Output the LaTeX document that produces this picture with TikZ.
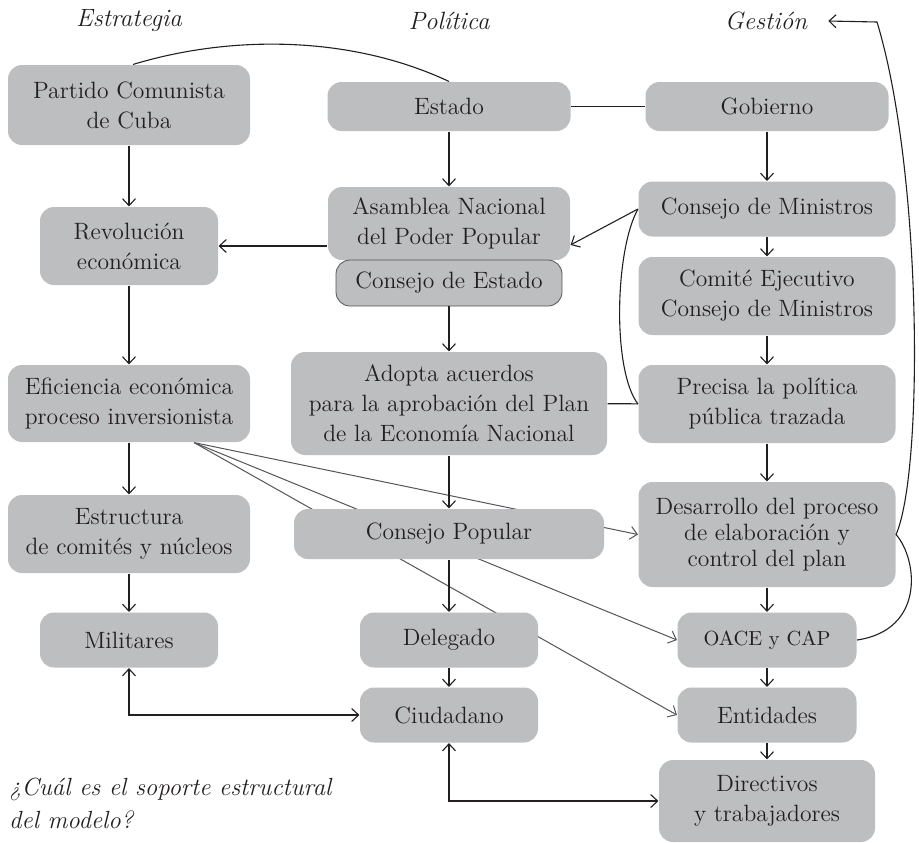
\documentclass[tikz,border=0pt]{standalone}
\usepackage{fontspec}
\usepackage{tikz}
\usetikzlibrary{arrows.meta, backgrounds}

\definecolor{cajagris}{RGB}{189,190,192}
\definecolor{tinta}{RGB}{35,31,32}
\definecolor{lineagris}{RGB}{85,85,88}

\tikzset{
  caja/.style={fill=cajagris, rounded corners=7pt, align=center, inner sep=2pt,
               text=tinta, font=\fontsize{11.8}{15}\selectfont},
  titulo/.style={font=\fontsize{12.5}{15}\selectfont\itshape, text=tinta},
  diagonal/.style={->, line width=0.5pt, draw=lineagris}
}

\begin{document}
\begin{tikzpicture}[->, >={Straight Barb[length=3.5pt,width=6.5pt]},
                x=0.5pt, y=-0.5pt, line width=0.55pt, color=tinta]
        \useasboundingbox (0,0) rectangle (919,842);

        \node [titulo] (estrategia) at (129,21) {Estrategia};
        \node [titulo] (politica) at (449,21) {Política};
        \node [titulo] (gestion) at (766,21) {Gestión};

%% estrategia
        \node [caja, minimum width=121pt, minimum height=40pt] (partido) at (129,105) {Partido Comunista\\de Cuba};
        \node [caja, minimum width=89pt, minimum height=39pt, node distance=70.5pt, below of = partido] (revolucion) {Revolución\\económica};
        \node [caja, minimum width=121pt, minimum height=38.5pt, node distance=78.75pt, below of = revolucion] (eficiencia) {Eficiencia económica\\proceso inversionista};
        \node [caja, minimum width=121pt, minimum height=39pt, node distance=65.25pt, below of = eficiencia] (estructura) {Estructura\\de comités y núcleos};
        \node [caja, minimum width=89pt, minimum height=27.5pt, node distance=53pt, below of = estructura] (militares) {Militares};

%% politica
        \node [caja, minimum width=121.5pt, minimum height=24.5pt] (estado) at (449,106.5) {Estado};
        \node [caja, minimum width=121pt, minimum height=36.5pt, node distance=58.5pt, below of = estado] (asamblea) {Asamblea Nacional\\del Poder Popular};
        \node [caja, draw=lineagris, thin, minimum width=113pt, minimum height=23pt, node distance=29.75pt, below of = asamblea] (consestado) {Consejo de Estado};
        \node [caja, minimum width=158pt, minimum height=51.5pt, node distance=60.25pt, below of = consestado] (adopta) {Adopta acuerdos\\para la aprobación del Plan\\de la Economía Nacional};
        \node [caja, minimum width=155pt, minimum height=25pt, node distance=65.25pt, below of = adopta] (conspopular) {Consejo Popular};
        \node [caja, minimum width=89pt, minimum height=27.5pt, node distance=53pt, below of = conspopular] (delegado) {Delegado};
        \node [caja, minimum width=89pt, minimum height=27.5pt, node distance=37.5pt, below of = delegado] (ciudadano) {Ciudadano};

%% gestion
        \node [caja, minimum width=121.5pt, minimum height=24.5pt] (gobierno) at (767,106.5) {Gobierno};
        \node [caja, minimum width=128.5pt, minimum height=27.5pt, node distance=51.25pt, below of = gobierno] (consministros) {Consejo de Ministros};
        \node [caja, minimum width=128.5pt, minimum height=39pt, node distance=43.5pt, below of = consministros] (comite) {Comité Ejecutivo\\Consejo de Ministros};
        \node [caja, minimum width=128.5pt, minimum height=39pt, node distance=54pt, below of = comite] (precisa) {Precisa la política\\pública trazada};
        \node [caja, font=\fontsize{11.8}{13}\selectfont, minimum width=128.5pt, minimum height=52.5pt, node distance=65.25pt, below of = precisa] (desarrollo) {Desarrollo del proceso\\de elaboración y\\control del plan};
        \node [caja, font=\fontsize{10.2}{13}\selectfont, minimum width=89.5pt, minimum height=27.5pt, node distance=52.75pt, below of = desarrollo] (oace) {OACE y CAP};
        \node [caja, minimum width=89.5pt, minimum height=27.5pt, node distance=37.5pt, below of = oace] (entidades) {Entidades};
        \node [caja, minimum width=108pt, minimum height=41pt, node distance=43pt, below of = entidades] (directivos) {Directivos\\y trabajadores};

        \node [titulo, anchor=west, align=left, font=\fontsize{12.4}{16.5}\selectfont\itshape] (pregunta) at (2,803) {¿Cuál es el soporte estructural\\del modelo?};

        \coordinate (vuelta) at (877,22);

%% paths
        \path
                 (partido) edge (revolucion)
                 (revolucion) edge (eficiencia)
                 (eficiencia) edge (estructura)
                 (estructura) edge (militares)
                 (estado) edge (asamblea)
                 (consestado) edge (adopta)
                 (adopta) edge (conspopular)
                 (conspopular) edge (delegado)
                 (delegado) edge (ciudadano)
                 (gobierno) edge (consministros)
                 (consministros) edge (comite)
                 (comite) edge (precisa)
                 (precisa) edge (desarrollo)
                 (desarrollo) edge (oace)
                 (oace) edge (entidades)
                 (entidades) edge (directivos)
                 (estado) edge [-] (gobierno)
                 (adopta) edge [-] (precisa)
                 ;

        \draw (asamblea.west |- revolucion) -- (revolucion);
        \draw (consministros.west) -- (asamblea.-10);
        \draw [-] (consministros.west) .. controls (615,250) and (612,370) .. (precisa.west);
        \draw [-] ([xshift=2pt]partido.north) .. controls (230,35) and (350,35) .. (estado.north);
        \draw (oace.east) .. controls (925,630) and (918,560) .. (desarrollo.east)
              .. controls (924,470) and (922,170) .. (vuelta) -- ([xshift=7pt]gestion.east);
        \draw [<->] (militares) |- (ciudadano);
        \draw [<->] (ciudadano) |- (directivos);

        \begin{scope}[on background layer]
        \draw [diagonal] (eficiencia.-31) -- (desarrollo.west);
        \draw [diagonal] (eficiencia.-31) -- (oace.west);
        \draw [diagonal] (eficiencia.-31) -- (entidades.west);
        \end{scope}
\end{tikzpicture}
\end{document}
